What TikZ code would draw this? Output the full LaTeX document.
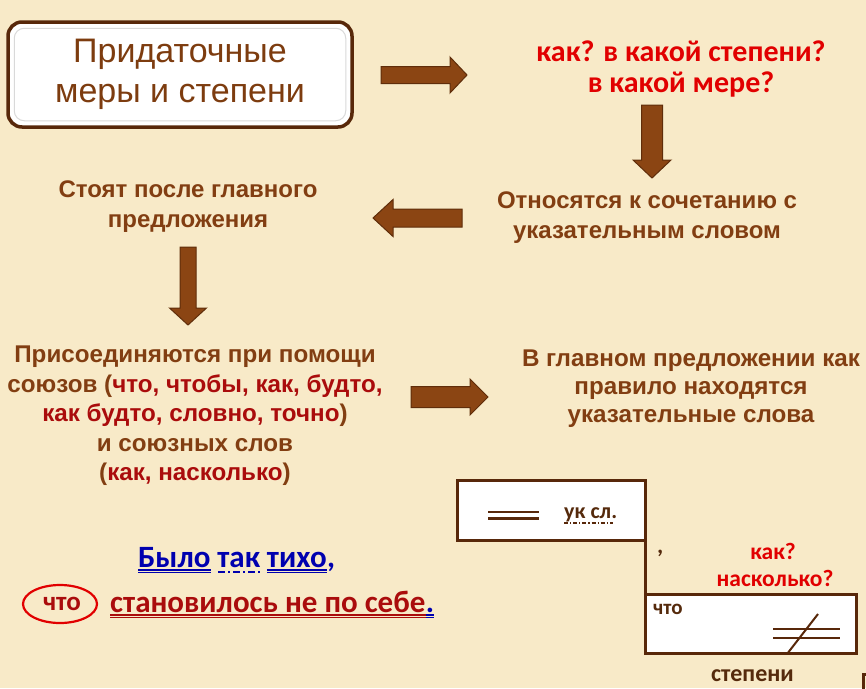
\documentclass[tikz,border=0pt]{standalone}
\usepackage{fontspec}
\setmainfont{Liberation Sans}
\newfontfamily\lsans{Liberation Sans}
\newfontfamily\carl{Carlito}
\usetikzlibrary{calc}
\definecolor{bgcol}{RGB}{248,234,200}
\definecolor{titlebrown}{RGB}{125,60,15}
\definecolor{txtbrown}{RGB}{130,62,18}
\definecolor{dredcol}{RGB}{170,12,12}
\definecolor{qred}{RGB}{225,0,0}
\definecolor{arrowfill}{RGB}{139,69,19}
\definecolor{arrowedge}{RGB}{95,45,10}
\definecolor{boxline}{RGB}{88,40,10}
\definecolor{darktxt}{RGB}{85,42,12}
\definecolor{sentblue}{RGB}{0,0,175}
\begin{document}
\begin{tikzpicture}[x=1pt,y=-1pt,
  titlebox/.style={draw=boxline, line width=3.5pt, fill=white, rounded corners=14pt,
    minimum width=344pt, minimum height=105pt, align=center, text=titlebrown,
    font=\lsans\fontsize{34}{40}\selectfont},
  brownbf/.style={text=txtbrown, font=\lsans\bfseries\fontsize{24}{30}\selectfont, align=center, inner sep=0pt},
  qtext/.style={text=qred, font=\carl\bfseries\fontsize{30}{32}\selectfont, align=center, inner sep=0pt},
  barrow/.style={fill=arrowfill, draw=arrowedge, line width=1pt, line join=miter},
  schembox/.style={draw=boxline, line width=3pt, fill=white, inner sep=0pt, outer sep=0pt},
  schemline/.style={draw=boxline, line width=2.5pt},
  smalltxt/.style={text=darktxt, font=\carl\bfseries\fontsize{22}{26}\selectfont, inner sep=0pt},
  smallred/.style={text=qred, font=\carl\bfseries\fontsize{23.5}{27}\selectfont, align=center, inner sep=0pt},
  blueword/.style={text=sentblue, font=\carl\bfseries\fontsize{31}{34}\selectfont, inner sep=0pt, anchor=base west},
  redword/.style={text=dredcol, font=\carl\bfseries\fontsize{31}{34}\selectfont, inner sep=0pt, anchor=base west},
  ulblue/.style={draw=sentblue, line width=1.3pt},
  ulred/.style={draw=dredcol, line width=1.3pt}
]
\useasboundingbox (0,0) rectangle (866,688);
\fill[bgcol] (0,0) rectangle (866,688);
\clip (0,0) rectangle (866,688);

% title
\node[titlebox] (title) at (180,74.5) {Придаточные\\меры и степени};
\draw[black!15, line width=1pt, rounded corners=10pt]
  ($(title.north west)+(8,8)$) rectangle ($(title.south east)+(-8,-8)$);

% texts
\node[qtext] (q) at (681,69) {как? в какой степени?\\в какой мере?};
\node[brownbf] (rel) at (647,218) {Относятся к сочетанию с\\указательным словом};
\node[brownbf] (after) at (188,207) {Стоят после главного\\предложения};
\node[brownbf, font=\lsans\bfseries\fontsize{24.2}{29.5}\selectfont] (joined) at (195,416)
  {Присоединяются при помощи\\союзов (\textcolor{dredcol}{что, чтобы, как, будто,}\\
   \textcolor{dredcol}{как будто, словно, точно})\\и союзных слов\\(\textcolor{dredcol}{как, насколько})};
\node[brownbf, font=\lsans\bfseries\fontsize{24.2}{28}\selectfont] (mainw) at (691,388.5)
  {В главном предложении как\\правило находятся\\указательные слова};

% block arrows
\filldraw[barrow] (381,66.5) -- (450,66.5) -- (450,57) -- (467,75) -- (450,93) -- (450,83.5) -- (381,83.5) -- cycle;
\filldraw[barrow] (641.5,105) -- (662.5,105) -- (662.5,160) -- (671,160) -- (652,178) -- (633,160) -- (641.5,160) -- cycle;
\filldraw[barrow] (462,209) -- (393,209) -- (393,199.5) -- (373,218) -- (393,236.5) -- (393,227) -- (462,227) -- cycle;
\filldraw[barrow] (180,247) -- (196,247) -- (196,308) -- (206.5,308) -- (188,325) -- (169.5,308) -- (180,308) -- cycle;
\filldraw[barrow] (411,386.5) -- (470,386.5) -- (470,379) -- (488,397) -- (470,415) -- (470,407.5) -- (411,407.5) -- cycle;

% scheme
\node[schembox, minimum width=188pt, minimum height=60pt] (b1) at (551,510) {};
\node[schembox, minimum width=211pt, minimum height=59pt] (b2) at (750.5,623.5) {};
\draw[boxline, line width=3pt] (b1.south east) -- (b2.north west);
\draw[schemline] (488,512) -- (539,512) (488,518.5) -- (539,518.5);
\node[smalltxt, anchor=base west] (uk) at (564,518) {ук сл.};
\draw[boxline, line width=1.2pt, dash pattern=on 4pt off 2pt on 1.2pt off 2pt]
  ($(uk.base west)+(0,5)$) -- ($(uk.base east)+(-4,5)$);
\node[smalltxt, font=\carl\bfseries\fontsize{24}{26}\selectfont, anchor=base west] (comma) at (657,553) {,};
\node[smallred] (kak) at (773,551) {как?};
\node[smallred] (nask) at (775,578) {насколько?};
\node[smalltxt, font=\carl\bfseries\fontsize{21}{24}\selectfont, anchor=base west] (chtobox) at (653,614) {что};
\draw[schemline] (773,629) -- (840,629) (773,638) -- (840,638);
\draw[boxline, line width=2pt] (787,654) -- (818,614);
\node[smalltxt, font=\carl\bfseries\fontsize{24}{28}\selectfont, anchor=base] (step) at (752.5,681) {степени};
\draw[boxline, line width=3pt] (863,692) -- (863,674) -- (870,674);

% example sentence
\node[blueword] (w1) at (138,567) {Было};
\node[blueword] (w2) at ($(w1.base east)+(6.5,0)$) {так};
\node[blueword] (w3) at ($(w2.base east)+(6.5,0)$) {тихо};
\node[blueword] (w4) at (w3.base east) {,};
\draw[ulblue] ($(w1.base west)+(0,3)$) -- ($(w1.base east)+(0,3)$)
              ($(w1.base west)+(0,5.5)$) -- ($(w1.base east)+(0,5.5)$);
\draw[ulblue] ($(w3.base west)+(0,3)$) -- ($(w3.base east)+(0,3)$)
              ($(w3.base west)+(0,5.5)$) -- ($(w3.base east)+(0,5.5)$);
\draw[ulblue, line width=2pt, dash pattern=on 7pt off 3pt on 2pt off 3pt]
  ($(w2.base west)+(1,4.5)$) -- ($(w2.base east)+(0,4.5)$);

\node[redword] (s1) at (110,612) {становилось не по себе};
\node[blueword] (s2) at (s1.base east) {.};
\draw[ulred] ($(s1.base west)+(0,3)$) -- ($(s1.base east)+(0,3)$)
             ($(s1.base west)+(0,5.5)$) -- ($(s1.base east)+(0,5.5)$);
\draw[ulblue] ($(s2.base west)+(0,3)$) -- ($(s2.base east)+(0,3)$)
              ($(s2.base west)+(0,5.5)$) -- ($(s2.base east)+(0,5.5)$);
\node[redword, anchor=center, font=\carl\bfseries\fontsize{27}{30}\selectfont] (chto) at (62,604) {что};
\draw[qred, line width=2.2pt] (60,604) ellipse [x radius=37pt, y radius=19pt];
\end{tikzpicture}
\end{document}
